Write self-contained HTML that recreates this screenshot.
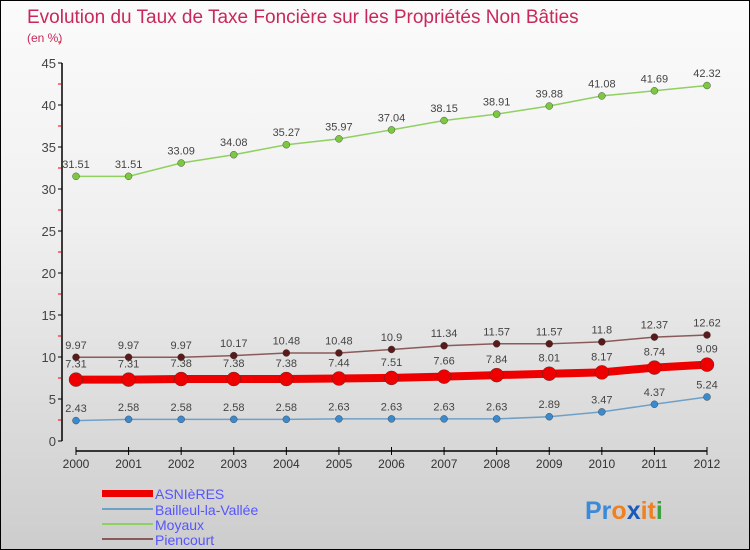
<!DOCTYPE html>
<html><head><meta charset="utf-8"><style>
body{margin:0;}
#wrap{width:750px;height:550px;position:relative;box-sizing:border-box;border:1px solid #000;background:linear-gradient(#fbfbfb,#f0f0f0 40%,#cdcdcd);overflow:hidden;font-family:"Liberation Sans",sans-serif;}
svg text{font-family:"Liberation Sans",sans-serif;}
</style></head><body>
<div id="wrap">
<svg id="c" width="750" height="550">
<text x="26" y="22" font-size="19" fill="#c8285a">Evolution du Taux de Taxe Foncière sur les Propriétés Non Bâties</text>
<text x="26" y="41" font-size="12" fill="#c8285a">(en %)</text>
<g id="g"></g>
<g>
<rect x="101" y="489" width="51" height="7" fill="#e00"/>
<text x="154" y="498" font-size="14" fill="#55f">ASNIèRES</text>
<rect x="101" y="507" width="51" height="2" fill="#6fa0c8"/>
<text x="154" y="514" font-size="14" fill="#55f">Bailleul-la-Vallée</text>
<rect x="101" y="522" width="51" height="2" fill="#8fd060"/>
<text x="154" y="529" font-size="14" fill="#55f">Moyaux</text>
<rect x="101" y="537" width="51" height="2" fill="#8a5a5a"/>
<text x="154" y="544" font-size="14" fill="#55f">Piencourt</text>
</g>
<text x="584" y="518" font-size="25" font-weight="bold"><tspan fill="#3a8ad8">Pr</tspan><tspan fill="#f08020">o</tspan><tspan fill="#1a5ab8">x</tspan><tspan fill="#f08020">it</tspan><tspan fill="#40a040">i</tspan></text>
</svg>
</div>
<script>
const years=[2000,2001,2002,2003,2004,2005,2006,2007,2008,2009,2010,2011,2012];
const asnieres=[7.31,7.31,7.38,7.38,7.38,7.44,7.51,7.66,7.84,8.01,8.17,8.74,9.09];
const bailleul=[2.43,2.58,2.58,2.58,2.58,2.63,2.63,2.63,2.63,2.89,3.47,4.37,5.24];
const moyaux=[31.51,31.51,33.09,34.08,35.27,35.97,37.04,38.15,38.91,39.88,41.08,41.69,42.32];
const piencourt=[9.97,9.97,9.97,10.17,10.48,10.48,10.9,11.34,11.57,11.57,11.8,12.37,12.62];
const yTicks=[0,5,10,15,20,25,30,35,40,45];
const NS='http://www.w3.org/2000/svg';
const g=document.getElementById('g');
const X=i=>75+i*(706-75)/(years.length-1);
const Y=v=>440-v*(440-62)/45;
function el(t,a){const e=document.createElementNS(NS,t);for(const k in a)e.setAttribute(k,a[k]);g.appendChild(e);return e;}
let e=el('line',{x1:61,y1:62,x2:61,y2:440,stroke:'#000','stroke-width':1.5});


yTicks.forEach(v=>{
 let t=el('line',{x1:57,x2:61,y1:Y(v),y2:Y(v),stroke:'#000'});
 
 
 let m=el('line',{x1:57,x2:60,y1:Y(v+2.5),y2:Y(v+2.5),stroke:'#e00'});
 
 
 let l=el('text',{x:55,y:Y(v)+5,'text-anchor':'end','font-size':13,fill:'#444'});l.textContent=v;
 
 
});
e=el('line',{x1:X(0),x2:X(years.length-1),y1:450,y2:450,stroke:'#000','stroke-width':1.5});


years.forEach((y,i)=>{
 let t=el('line',{x1:X(i),x2:X(i),y1:446,y2:454,stroke:'#000'});
 
 
 let l=el('text',{x:X(i),y:467,'text-anchor':'middle','font-size':12,fill:'#333'});l.textContent=y;
 
 
});
function series(name,d,color,w,r,dot){
 let p=el('polyline',{points:d.map((v,i)=>X(i)+','+Y(v)).join(' '),fill:'none',stroke:color,'stroke-width':w});
 
 
 d.forEach((v,i)=>{
  let c=el('circle',{cx:X(i),cy:Y(v),r:r,fill:dot,stroke:'#333','stroke-width':0.4});
  
  
  let l=el('text',{x:X(i),y:Y(v)-(r+5),'text-anchor':'middle','font-size':11,fill:'#444'});l.textContent=v;
  
  
 });
}
series('moyaux',moyaux,'#8fd060',1.5,3.5,'#7cc840');
series('piencourt',piencourt,'#8a5a5a',1.5,3.5,'#5a1a1a');
series('bailleul',bailleul,'#6fa0c8',1.5,3.5,'#3a8ad0');
series('asnieres',asnieres,'#e00',8,7,'#e00');
</script>
</body></html>
